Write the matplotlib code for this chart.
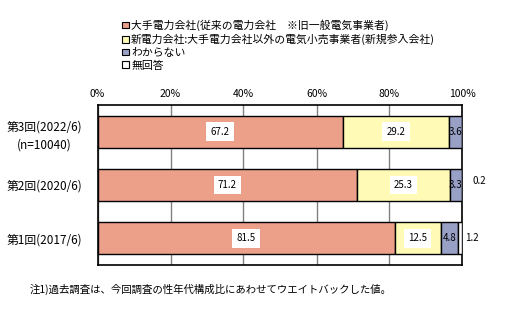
import numpy as np
import matplotlib.pyplot as plt
from matplotlib.patches import Patch

plt.rcParams['font.family'] = ['Noto Sans CJK JP', 'DejaVu Sans']

categories = ['第3回(2022/6)\n(n=10040)', '第2回(2020/6)', '第1回(2017/6)']
series_names = ['大手電力会社(従来の電力会社　※旧一般電気事業者)',
                '新電力会社:大手電力会社以外の電気小売事業者(新規参入会社)',
                'わからない',
                '無回答']
values = [
    [67.2, 71.2, 81.5],
    [29.2, 25.3, 12.5],
    [3.6, 3.3, 4.8],
    [0.0, 0.2, 1.2],
]
colors = ['#eca08a', '#fffbb6', '#99a0c6', '#ffffff']
xticks = [0, 20, 40, 60, 80, 100]

fig = plt.figure(figsize=(5.17, 3.27), dpi=100)
ax = fig.add_axes([97.5 / 517, 1 - 265 / 327, 365 / 517, 160 / 327])

y = np.arange(len(categories))
left = np.zeros(len(categories))
for i, vals in enumerate(values):
    vals = np.array(vals)
    ax.barh(y, vals, left=left, height=0.6, color=colors[i],
            edgecolor='black', linewidth=1.0, zorder=3)
    for j, v in enumerate(vals):
        if v == 0:
            continue
        cx = left[j] + v / 2
        if i < 2:
            ax.text(cx, y[j], f'{v:.1f}', ha='center', va='center', fontsize=7,
                    bbox=dict(facecolor='white', edgecolor='none', pad=3), zorder=4)
        elif i == 2:
            ax.text(cx, y[j], f'{v:.1f}', ha='center', va='center', fontsize=7, zorder=4)
        else:
            # 無回答は棒の外側に表示
            dx = 0.8 if v >= 1 else 2.8
            dy = 0 if v >= 1 else -0.08
            ax.text(100 + dx, y[j] + dy, f'{v:.1f}', ha='left', va='center', fontsize=7)
    left += vals

ax.set_xlim(0, 100)
ax.set_ylim(len(categories) - 0.5, -0.5)
ax.set_xticks(xticks)
ax.set_xticklabels([f'{t}%' for t in xticks], fontsize=7.5)
ax.xaxis.tick_top()
ax.tick_params(axis='x', length=0, pad=4)
ax.set_yticks(y)
ax.set_yticklabels(categories, fontsize=8.5, linespacing=1.5, ha='center')
ax.tick_params(axis='y', length=0, pad=38)
ax.grid(axis='x', color='#808080', linewidth=1.0, zorder=0)
for s in ax.spines.values():
    s.set_linewidth(1.2)

handles = [Patch(facecolor=c, edgecolor='black', linewidth=0.8) for c in colors]
fig.legend(handles, series_names, loc='upper left', bbox_to_anchor=(117 / 517, 1 - 14 / 327),
           frameon=False, fontsize=7.8, handlelength=0.6, handleheight=0.6,
           handletextpad=0.2, labelspacing=0.25, borderpad=0)

fig.text(30 / 517, 1 - 289 / 327, '注1)過去調査は、今回調査の性年代構成比にあわせてウエイトバックした値。',
         fontsize=7.5, va='center', ha='left')

fig.savefig('out.png', dpi=100)
